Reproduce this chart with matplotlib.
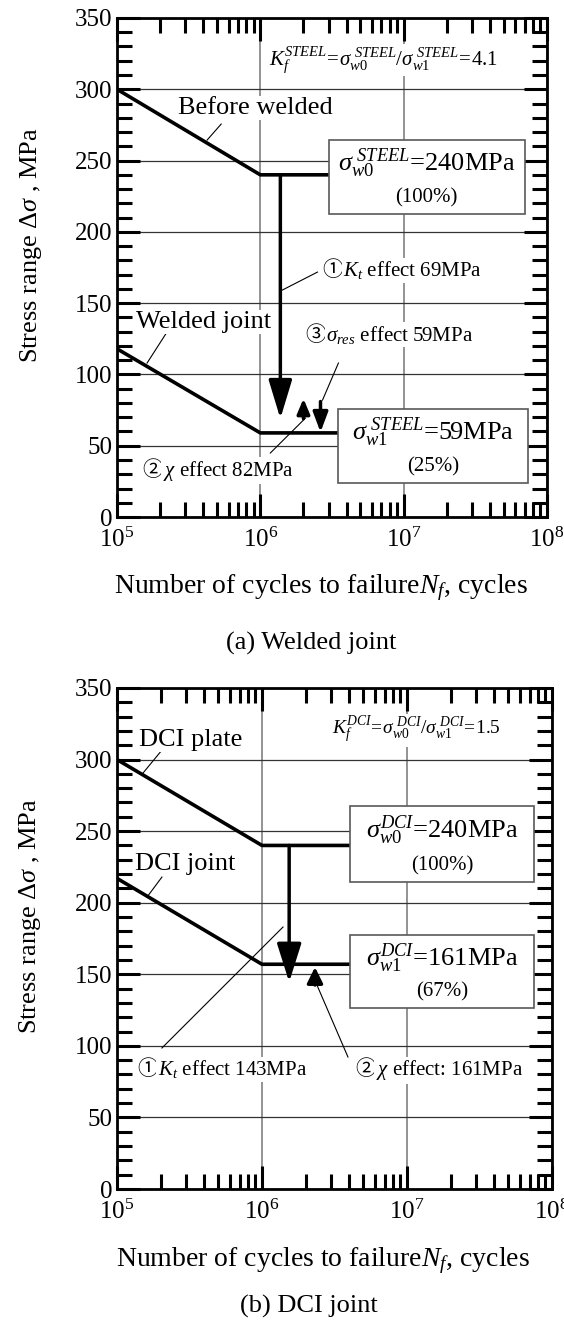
import numpy as np
import matplotlib
matplotlib.use('Agg')
import matplotlib.pyplot as plt
from matplotlib.patches import Rectangle, FancyArrowPatch, ArrowStyle
from matplotlib.ticker import MultipleLocator, LogLocator, NullFormatter

plt.rcParams['font.family'] = ['Liberation Serif', 'DejaVu Sans']
plt.rcParams['mathtext.fontset'] = 'custom'
plt.rcParams['mathtext.rm'] = 'Liberation Serif'
plt.rcParams['mathtext.it'] = 'Liberation Serif:italic'
plt.rcParams['mathtext.bf'] = 'Liberation Serif:bold'

# (a) welded joint: S-N lines (cycles, stress range MPa)
steel_cycles = [1e5, 1e6, 3.0e6]
steel_before = [300, 240, 240]
weld_cycles = [1e5, 1e6, 3.5e6]
weld_joint = [118, 59, 59]

# (b) DCI joint
dci_cycles = [1e5, 1e6, 4.0e6]
dci_plate = [300, 240, 240]
dci_joint = [217, 157, 157]

BIG = 19
SMALL = 15
WHITE = dict(fc='white', ec='none', pad=1)


def setup(ax):
    ax.set_xscale('log')
    ax.set_xlim(1e5, 1e8)
    ax.set_ylim(0, 350)
    ax.yaxis.set_major_locator(MultipleLocator(50))
    ax.yaxis.set_minor_locator(MultipleLocator(10))
    ax.xaxis.set_major_locator(LogLocator(base=10, numticks=10))
    ax.xaxis.set_minor_locator(LogLocator(base=10, subs=np.arange(2, 10), numticks=20))
    ax.xaxis.set_minor_formatter(NullFormatter())
    ax.tick_params(which='both', direction='in', top=True, right=True, width=2.2,
                   labelsize=18)
    ax.tick_params(which='major', length=16.5)
    ax.tick_params(which='minor', length=10.5)
    ax.tick_params(axis='x', pad=8)
    for s in ax.spines.values():
        s.set_linewidth(2)
    ax.grid(True, which='major', axis='y', color='0.2', lw=0.9)
    ax.grid(True, which='major', axis='x', color='0.5', lw=1.2)
    ax.set_axisbelow(True)
    ax.set_ylabel(r'Stress range $\Delta\sigma$ , MPa', fontsize=BIG)
    ax.yaxis.set_label_coords(-0.17, 0.545)
    ax.set_xlabel(r'Number of cycles to failure$N_f$, cycles', fontsize=20,
                  va='center')
    ax.xaxis.set_label_coords(0.474, -0.142)


def arrow(ax, x, y_from, y_to, hl, hw, lw=2.5):
    style = ArrowStyle('-|>', head_length=hl, head_width=hw)
    ax.add_patch(FancyArrowPatch((x, y_from), (x, y_to), arrowstyle=style,
                                 mutation_scale=1, lw=lw, color='k',
                                 shrinkA=0, shrinkB=0, zorder=4))


def leader(ax, p0, p1):
    ax.plot([p0[0], p1[0]], [p0[1], p1[1]], color='k', lw=0.8, zorder=3)


def label(ax, x, y, s, size):
    ax.text(x, y, s, fontsize=size, ha='center', va='center', zorder=5, bbox=WHITE)


def effect(ax, x, y, num, s, size=SMALL):
    # circled number comes from a CJK font, the rest from the serif/mathtext
    ax.text(x, y, num, fontsize=size, family='Noto Sans CJK JP', ha='left',
            va='baseline', zorder=5, bbox=WHITE)
    ax.annotate(s, xy=(x, y), xytext=(size * 1.0, 0), textcoords='offset points',
                fontsize=size, ha='left', va='baseline', zorder=5, bbox=WHITE)


def box(ax, x0, x1, y0, y1, top, bottom):
    ax.add_patch(Rectangle((x0, y0), x1 - x0, y1 - y0, fc='white', ec='0.35',
                           lw=1.2, zorder=4))
    xc = 10 ** ((np.log10(x0) + np.log10(x1)) / 2)
    ax.text(xc, y0 + (y1 - y0) * 0.68, top, fontsize=BIG, ha='center',
            va='center', zorder=5)
    ax.text(xc, y0 + (y1 - y0) * 0.22, bottom, fontsize=SMALL, ha='center',
            va='center', zorder=5)


fig = plt.figure(figsize=(5.64, 13.22), dpi=100)
ax1 = fig.add_axes([0.2074, 0.6089, 0.7624, 0.3775])
ax2 = fig.add_axes([0.2074, 0.1006, 0.7713, 0.3790])

# ---------- (a) Welded joint ----------
setup(ax1)
ax1.plot(steel_cycles, steel_before, color='k', lw=2.6, zorder=3)
ax1.plot(weld_cycles, weld_joint, color='k', lw=2.6, zorder=3)

box(ax1, 10 ** 6.476, 10 ** 7.846, 212.5, 264.4,
    r'$\sigma_{w0}^{\ STEEL}$=240MPa', '(100%)')
box(ax1, 10 ** 6.545, 10 ** 7.867, 23.8, 75.7,
    r'$\sigma_{w1}^{\ STEEL}$=59MPa', '(25%)')

label(ax1, 10 ** 6.86, 320.5,
      r'$K_f^{STEEL}\!=\!\sigma_{w0}^{\ STEEL}/\sigma_{w1}^{\ STEEL}\!=\!$4.1', SMALL)
label(ax1, 10 ** 5.965, 286.8, 'Before welded', BIG)
leader(ax1, (10 ** 5.629, 264.4), (10 ** 5.727, 275.6))
label(ax1, 10 ** 5.601, 136.7, 'Welded joint', BIG)
leader(ax1, (10 ** 5.21, 108), (10 ** 5.357, 131))

arrow(ax1, 1.38e6, 240, 69, 23.8, 7.2)
arrow(ax1, 2.0e6, 69, 83, 9, 3.8)
arrow(ax1, 2.63e6, 81, 59.5, 12, 4.5)

effect(ax1, 10 ** 6.434, 169.0, '①', r'$K_t$ effect 69MPa')
leader(ax1, (10 ** 6.154, 159.2), (10 ** 6.399, 171.8))
effect(ax1, 10 ** 6.315, 123.6, '③', r'$\sigma_{res}$ effect 59MPa')
leader(ax1, (10 ** 6.434, 82), (10 ** 6.545, 108))
effect(ax1, 10 ** 5.175, 29.0, '②', r'$\chi$ effect 82MPa')
leader(ax1, (10 ** 6.07, 44.9), (10 ** 6.315, 69.4))

fig.text(0.551, 0.513, '(a) Welded joint', fontsize=19, ha='center', va='center')

# ---------- (b) DCI joint ----------
setup(ax2)
ax2.plot(dci_cycles, dci_plate, color='k', lw=2.6, zorder=3)
ax2.plot(dci_cycles, dci_joint, color='k', lw=2.6, zorder=3)

box(ax2, 10 ** 6.607, 10 ** 7.876, 214.4, 267.5,
    r'$\sigma_{w0}^{DCI}$=240MPa', '(100%)')
box(ax2, 10 ** 6.607, 10 ** 7.876, 126.4, 177.4,
    r'$\sigma_{w1}^{DCI}$=161MPa', '(67%)')

label(ax2, 10 ** 7.062, 320.5,
      r'$K_f^{DCI}\!=\!\sigma_{w0}^{\ DCI}/\sigma_{w1}^{\ DCI}\!=\!$1.5', 14)
label(ax2, 10 ** 5.51, 314, 'DCI plate', BIG)
leader(ax2, (10 ** 5.179, 290.5), (10 ** 5.31, 306.6))
label(ax2, 10 ** 5.469, 227, 'DCI joint', BIG)
leader(ax2, (10 ** 5.207, 203.9), (10 ** 5.31, 217.9))

arrow(ax2, 1.54e6, 240, 144.5, 23.8, 7.5)
arrow(ax2, 2.32e6, 142.5, 155, 9.5, 4.7)

effect(ax2, 10 ** 5.138, 79.6, '①', r'$K_t$ effect 143MPa')
leader(ax2, (10 ** 5.31, 98.5), (10 ** 6.145, 183))
effect(ax2, 10 ** 6.641, 79.6, '②', r'$\chi$ effect: 161MPa')
leader(ax2, (10 ** 6.593, 92.2), (10 ** 6.379, 142.5))

fig.text(0.548, 0.012, '(b) DCI joint', fontsize=19, ha='center', va='center')

fig.savefig('out.png', dpi=100)
